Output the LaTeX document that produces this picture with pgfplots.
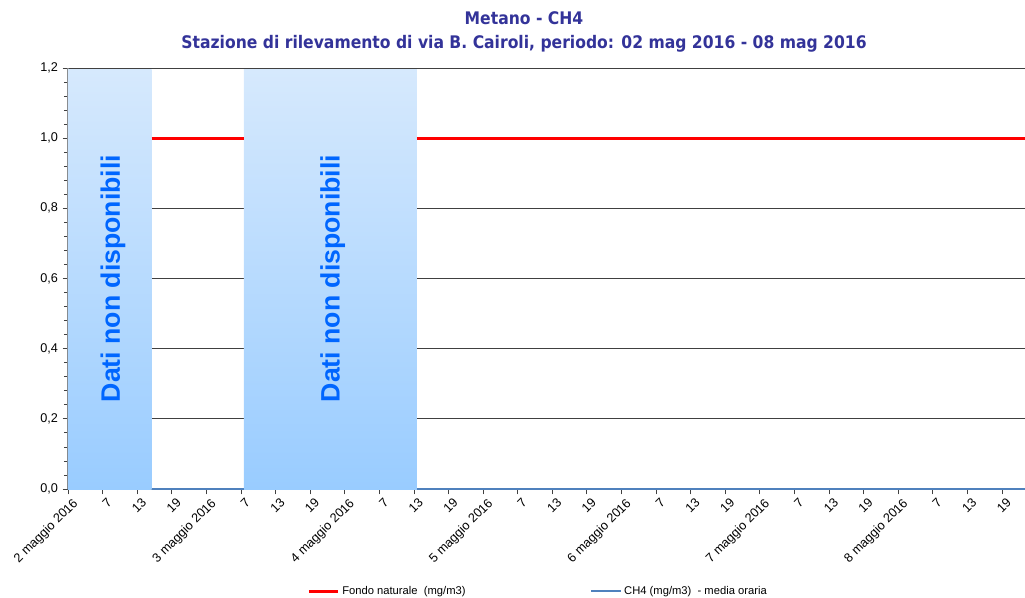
\documentclass[border=0pt]{standalone}
\usepackage{fontspec}
\setmainfont{Liberation Sans}
\newfontfamily\titlefont[FakeStretch=0.9]{DejaVu Sans}
\usepackage{pgfplots}
\pgfplotsset{compat=1.18}
\definecolor{titleblue}{HTML}{333399}
\definecolor{boxtop}{HTML}{D6E9FD}
\definecolor{boxbot}{HTML}{99CCFF}
\definecolor{txtblue}{HTML}{0066FF}
\definecolor{ch4blue}{HTML}{4F81BD}
\definecolor{gridgray}{HTML}{404040}

\begin{document}
\begin{tikzpicture}
\begin{axis}[
  scale only axis, width=717.75pt, height=315.75pt,
  xmin=0, xmax=166, ymin=0, ymax=1.2,
  clip=false,
  axis x line=bottom, axis y line=left,
  axis line style={-, draw=gray, line width=0.9pt},
  tick align=outside, major tick length=4pt, minor tick length=3pt,
  tick style={gridgray, line width=0.6pt},
  ytick={0,0.2,0.4,0.6,0.8,1.0,1.2}, minor y tick num=4,
  ymajorgrids, major grid style={gridgray, line width=0.6pt},
  yticklabel style={/pgf/number format/fixed, /pgf/number format/fixed zerofill,
    /pgf/number format/precision=1, /pgf/number format/use comma,
    /pgf/number format/assume math mode=true, font=\fontsize{9.5}{10}\selectfont},
  xtick={0,6,...,162},
  xticklabels={2 maggio 2016,7,13,19,3 maggio 2016,7,13,19,4 maggio 2016,7,13,19,
    5 maggio 2016,7,13,19,6 maggio 2016,7,13,19,7 maggio 2016,7,13,19,8 maggio 2016,7,13,19},
  x tick label style={rotate=45, anchor=north east, inner sep=0pt, xshift=0.5pt, yshift=-3.5pt,
    font=\fontsize{9.5}{10}\selectfont},
  unbounded coords=jump,
  legend columns=2,
  legend style={at={(0.4915,0)}, anchor=center, yshift=-76.5pt, draw=none, fill=none,
    font=\fontsize{8.4}{9}\selectfont,
    /tikz/every even column/.append style={column sep=91.5pt},
    /tikz/every odd column/.append style={xshift=-2pt}},
  legend image code/.code={\draw[#1] (0pt,0pt) -- (22pt,0pt);},
]
% periodi senza dati
\addplot[draw=none, top color=boxtop, bottom color=boxbot, forget plot]
  coordinates {(0,1.195) (14.5,1.195)} \closedcycle;
\addplot[draw=none, top color=boxtop, bottom color=boxbot, forget plot]
  coordinates {(30.5,1.195) (60.5,1.195)} \closedcycle;

\addplot[red, line width=2.25pt]
  coordinates {(14.5,1) (30.5,1) (30.5,nan) (60.5,1) (166,1)};
\addplot[ch4blue, line width=1.5pt]
  coordinates {(14.5,0) (30.5,0) (30.5,nan) (60.5,0) (166,0)};
\legend{Fondo naturale\ \ (mg/m3), CH4 (mg/m3)\ \ - media oraria}

\node[rotate=90, font=\bfseries\fontsize{20}{20}\selectfont, text=txtblue]
  at (axis cs:7.8,0.6) {Dati non disponibili};
\node[rotate=90, font=\bfseries\fontsize{20}{20}\selectfont, text=txtblue]
  at (axis cs:45.9,0.6) {Dati non disponibili};

\node[font=\titlefont\bfseries\fontsize{13}{18}\selectfont, text=titleblue, align=center,
  yshift=27pt] at (rel axis cs:0.4765,1)
  {Metano - CH4\\Stazione di rilevamento di via B. Cairoli, periodo: 02 mag 2016 - 08 mag 2016};

\coordinate (bl) at (rel axis cs:0,0);
\coordinate (tr) at (rel axis cs:1,1);
\end{axis}
\pgfresetboundingbox
\path[use as bounding box] ([xshift=-51pt,yshift=-81pt]bl) rectangle ([yshift=51pt]tr);
\end{tikzpicture}
\end{document}
